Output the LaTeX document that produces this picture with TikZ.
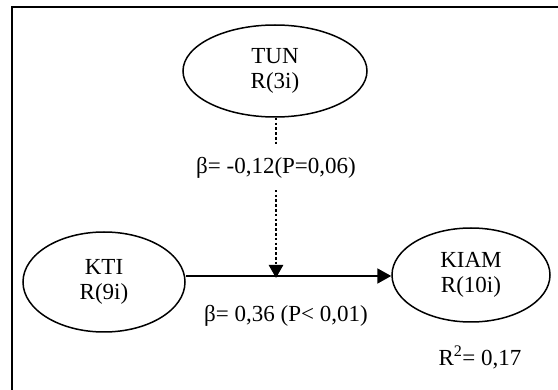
\documentclass[tikz,border=0pt]{standalone}
\usepackage{fontspec}
\setmainfont{Liberation Serif}
\usetikzlibrary{
    arrows.meta,
    shapes.geometric
}

\tikzset{
    construct/.style={ellipse, draw, line width=1.5pt, inner sep=0pt, align=center,
        font=\fontsize{23}{25}\selectfont},
    coef/.style={font=\fontsize{23}{25}\selectfont, inner sep=0pt}
}

\begin{document}
\begin{tikzpicture}[x=1pt, y=-1pt]
    \useasboundingbox (0,0) rectangle (558,390);

    % Frame
    \draw[line width=1.8pt] (12,390) -- (12,7) -- (558,7);

    % Constructs
    \node[construct, minimum width=184pt, minimum height=92pt] (tun) at (275,71) {TUN\\R(3i)};
    \node[construct, minimum width=162pt, minimum height=100pt] (kti) at (104,282) {KTI\\R(9i)};
    \node[construct, minimum width=158pt, minimum height=94pt] (kiam) at (471,275) {KIAM\\R(10i)};

    % Main effect
    \coordinate (hit) at (276,276);
    \draw[line width=2pt, -{Triangle[length=14pt, width=15pt]}] (kti.east |- hit) -- (kiam.west |- hit);
    \node[coef] (bmain) at (286,316) {β= 0,36 (P< 0,01)};
    \node[coef] (rsq) at (480,357) {R\textsuperscript{2}= 0,17};

    % Moderation
    \draw[line width=2.6pt, dash pattern=on 2.6pt off 2.2pt,
        -{Triangle[length=13pt, width=14pt]}] (tun.south -| hit) -- ([yshift=-2pt]hit)
        node[coef, pos=0.31, fill=white, inner ysep=12pt] (bmod) {β= -0,12(P=0,06)};
\end{tikzpicture}
\end{document}
